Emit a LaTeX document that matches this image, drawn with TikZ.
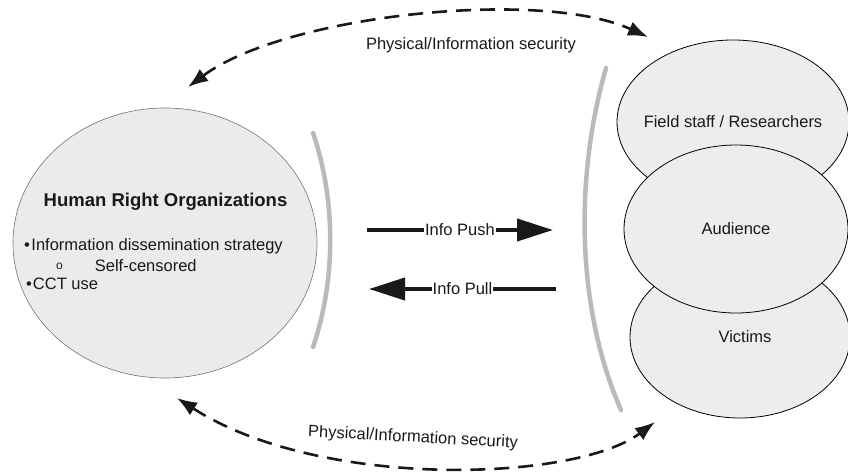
\documentclass[tikz,border=0pt]{standalone}
\usepackage{fontspec}
\setmainfont{Liberation Sans}
\usetikzlibrary{arrows.meta,positioning,shapes.geometric}

\begin{document}
\begin{tikzpicture}[
    x=1pt,y=-1pt,
    every node/.style={font=\fontsize{16.5}{19}\selectfont,text=black!90},
    group/.style={ellipse,draw=black!55,line width=0.6pt,fill=black!8,inner sep=0pt},
    party/.style={ellipse,draw=black,line width=0.8pt,fill=black!7,inner sep=0pt},
    bracket/.style={line width=4.5pt,draw=black!27,line cap=round},
    flow/.style={line width=4pt,black!90,-{Triangle[length=36pt,width=22pt]}},
    secure/.style={line width=2.6pt,black!90,dash pattern=on 15pt off 9pt,
        {Latex[length=20pt,width=15pt]}-{Latex[length=20pt,width=15pt]}},
    flowlabel/.style={fill=white,inner sep=1pt}
]
\useasboundingbox (0,0) rectangle (848,471);

% organisations
\node[group,minimum width=304pt,minimum height=270pt] (hro) at (165,243) {};
\node[font=\fontsize{18.5}{21}\selectfont\bfseries] (title) at (165.5,202) {Human Right Organizations};
\node[anchor=west,inner sep=0pt] (b1) at (24,246) {\textbullet\hspace{1.5pt}Information dissemination strategy};
\node[anchor=west,inner sep=0pt] (b2) at (56,266) {\raisebox{2pt}{\fontsize{12}{12}\selectfont o}\hspace{32pt}Self-censored};
\node[anchor=west,inner sep=0pt] (b3) at (26,284) {\textbullet\hspace{1pt}CCT use};

% field side
\node[party,minimum width=232pt,minimum height=164pt] (staff) at (733,122) {};
\node[party,minimum width=220pt,minimum height=162pt] (victims) at (740,337) {};
\node[party,minimum width=224pt,minimum height=168pt] (audience) at (736,229) {Audience};
\node (stafftext) at (733,122) {Field staff / Researchers};
\node (victimstext) at (745,337) {Victims};

\draw[bracket] (313,133) .. controls (336,200) and (336,280) .. (313,347);
\draw[bracket] (606,68) .. controls (574,180) and (577,310) .. (621,410);

% info exchange
\coordinate (pushA) at (367,230);
\coordinate (pushB) at (553,230);
\coordinate (pullA) at (556,289);
\coordinate (pullB) at (369,289);
\draw[flow] (pushA) -- node[flowlabel] (push) {Info Push} (pushB);
\draw[flow] (pullA) -- node[flowlabel] (pull) {Info Pull} (pullB);

% security
\coordinate (topL) at (188,87);
\coordinate (topR) at (648,37);
\coordinate (botL) at (177,398);
\coordinate (botR) at (655,422);
\draw[secure] (topL) .. controls (285,15) and (540,-12) .. (topR);
\draw[secure] (botL) .. controls (320,490) and (575,482) .. (botR);
\node (toplabel) at (471,45) {Physical/Information security};
\node[rotate=-3] (botlabel) at (413,438) {Physical/Information security};
\end{tikzpicture}
\end{document}
